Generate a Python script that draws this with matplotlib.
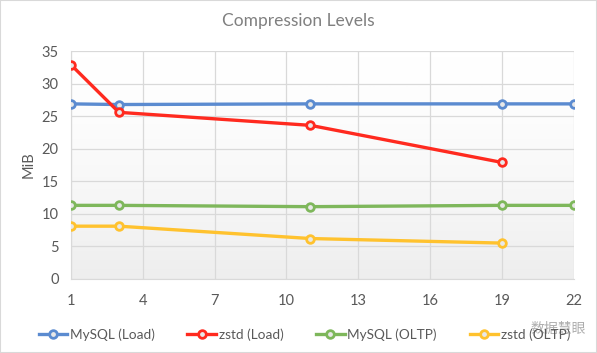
import numpy as np
import matplotlib.pyplot as plt

plt.rcParams['font.family'] = ['Lato', 'Noto Sans CJK SC', 'DejaVu Sans']

levels_mysql = [1, 3, 11, 19, 22]
levels_zstd = [1, 3, 11, 19]
mysql_load = [26.9, 26.8, 26.9, 26.9, 26.9]
zstd_load = [32.9, 25.6, 23.6, 17.9]
mysql_oltp = [11.3, 11.3, 11.1, 11.3, 11.3]
zstd_oltp = [8.1, 8.1, 6.2, 5.5]

series = [
    ('MySQL (Load)', levels_mysql, mysql_load, '#5B8BD0'),
    ('zstd (Load)', levels_zstd, zstd_load, '#FF2A1F'),
    ('MySQL (OLTP)', levels_mysql, mysql_oltp, '#7EB75B'),
    ('zstd (OLTP)', levels_zstd, zstd_oltp, '#FFC22E'),
]

fig = plt.figure(figsize=(5.97, 3.53), dpi=100)
ax = fig.add_axes([0.119, 0.21, 0.842, 0.645])

# light gradient in the plot area
grad = np.linspace(0, 1, 256).reshape(-1, 1) ** 1.5
ax.imshow(grad, extent=[0, 1, 0, 1], transform=ax.transAxes, aspect='auto',
          cmap=plt.matplotlib.colors.LinearSegmentedColormap.from_list('g', ['#ffffff', '#eeeeee']),
          origin='upper', zorder=0)

for label, x, y, c in series:
    ax.plot(x, y, color=c, lw=2.4, marker='o', ms=5.5, mfc='#e8e8e8', mec=c, mew=2,
            label=label, zorder=3)

ax.set_xlim(1, 22)
ax.set_ylim(0, 35)
ax.set_xticks(range(1, 23, 3))
ax.set_yticks(range(0, 36, 5))
ax.grid(True, color='#d9d9d9', lw=0.9, zorder=1)
ax.set_axisbelow(True)
for s in ['top', 'right']:
    ax.spines[s].set_visible(False)
for s in ['left', 'bottom']:
    ax.spines[s].set_color('#d9d9d9')
ax.tick_params(length=0, colors='#595959', labelsize=10.5, pad=11)
ax.tick_params(axis='y', pad=9)
ax.set_ylabel('MiB', color='#595959', fontsize=10.5, labelpad=4)
fig.text(0.5, 0.94, 'Compression Levels', color='#808080', fontsize=12.5,
         ha='center', va='center')

fig.legend(loc='lower center', bbox_to_anchor=(0.51, 0.0), ncol=4, frameon=False,
           fontsize=9.8, labelcolor='#595959', handlelength=2.1, columnspacing=2.4,
           handletextpad=0.2)

fig.text(0.935, 0.07, '数据慧眼', color='#999999', fontsize=10, ha='center', va='center', alpha=0.8)

# outer frame
fig.patches.append(plt.Rectangle((0, 0), 1, 1, transform=fig.transFigure, fill=False,
                                 edgecolor='#d9d9d9', lw=1.5))

fig.savefig('out.png', dpi=100)
